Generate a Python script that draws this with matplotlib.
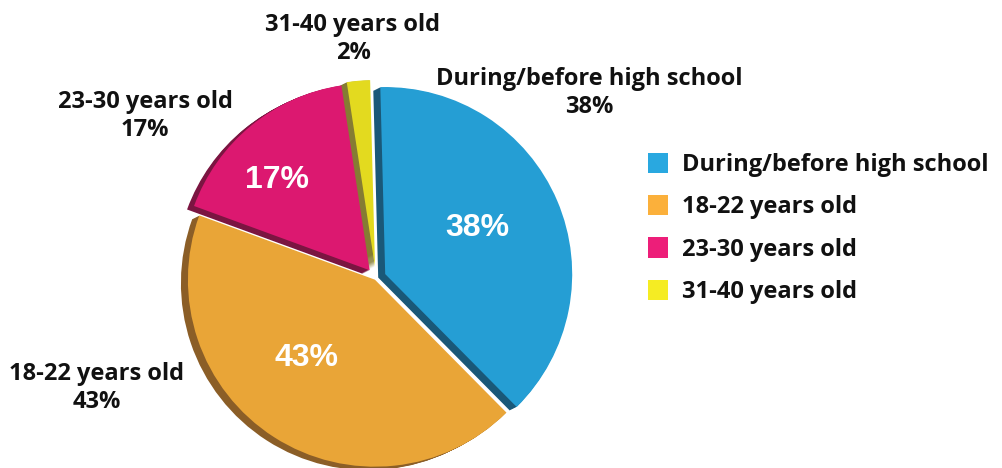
import matplotlib.pyplot as plt
from matplotlib.patches import Patch

# datos
labels = ['During/before high school', '18-22 years old', '23-30 years old', '31-40 years old']
values = [38, 43, 17, 2]
explode = [10, 2, 10, 11]   # desplazamiento en pixeles

face_colors = ['#259ED4', '#E9A537', '#DC1870', '#E3DA1F']
side_colors = ['#1A5878', '#8B5E27', '#7B1541', '#857C33']
legend_colors = ['#29A8E0', '#FBB03B', '#ED1E79', '#F5EC23']

W, H = 1003, 468
fig = plt.figure(figsize=(W / 100, H / 100), dpi=100)
ax = fig.add_axes([0, 0, 1, 1])

cx, cy, r = 376, H - 278, 187

# "3D" side: copias desplazadas hacia la izquierda/abajo
for k in range(1, 8):
    ax.pie(values, explode=explode, colors=side_colors, startangle=91.5,
           counterclock=False, radius=r, center=(cx - k, cy - k * 0.5),
           wedgeprops=dict(linewidth=0), frame=True)

wedges, texts, autotexts = ax.pie(
    values, explode=explode, colors=face_colors, startangle=91.5,
    counterclock=False, radius=r, center=(cx, cy),
    autopct=lambda p: '%d%%' % round(p) if p > 5 else '',
    pctdistance=0.6, wedgeprops=dict(linewidth=0), frame=True,
    textprops=dict(color='white', fontsize=23, fontweight='bold',
                   family='Liberation Sans'))

# posicion de los porcentajes internos (pixeles)
pct_pos = [(477, 228), (307, 358), (277, 180), None]
for t, p in zip(autotexts, pct_pos):
    if p is not None:
        t.set_position((p[0], H - p[1]))

ax.set_xlim(0, W)
ax.set_ylim(0, H)
ax.set_aspect('equal')
ax.axis('off')

fam = 'Open Sans'
lab_font = dict(family=fam, fontsize=17, fontweight='bold', color='#111111',
                ha='center', va='center', linespacing=1.25)
ax.text(353, H - 39, labels[3] + '\n' + '%d%%' % values[3], **lab_font)
ax.text(589, H - 93, labels[0] + '\n' + '%d%%' % values[0], **lab_font)
ax.text(145, H - 116, labels[2] + '\n' + '%d%%' % values[2], **lab_font)
ax.text(97, H - 388, labels[1] + '\n' + '%d%%' % values[1], **lab_font)

handles = [Patch(facecolor=c, edgecolor='none') for c in legend_colors]
leg = ax.legend(handles, labels, loc='upper left',
                bbox_to_anchor=(636 / W, 1 - 141 / H), bbox_transform=fig.transFigure,
                frameon=False, borderpad=0, handlelength=0.85, handleheight=0.95,
                handletextpad=0.6, labelspacing=0.76,
                prop=dict(family=fam, size=17, weight='bold'))
for t in leg.get_texts():
    t.set_color('#111111')

fig.savefig('out.png', dpi=100)
